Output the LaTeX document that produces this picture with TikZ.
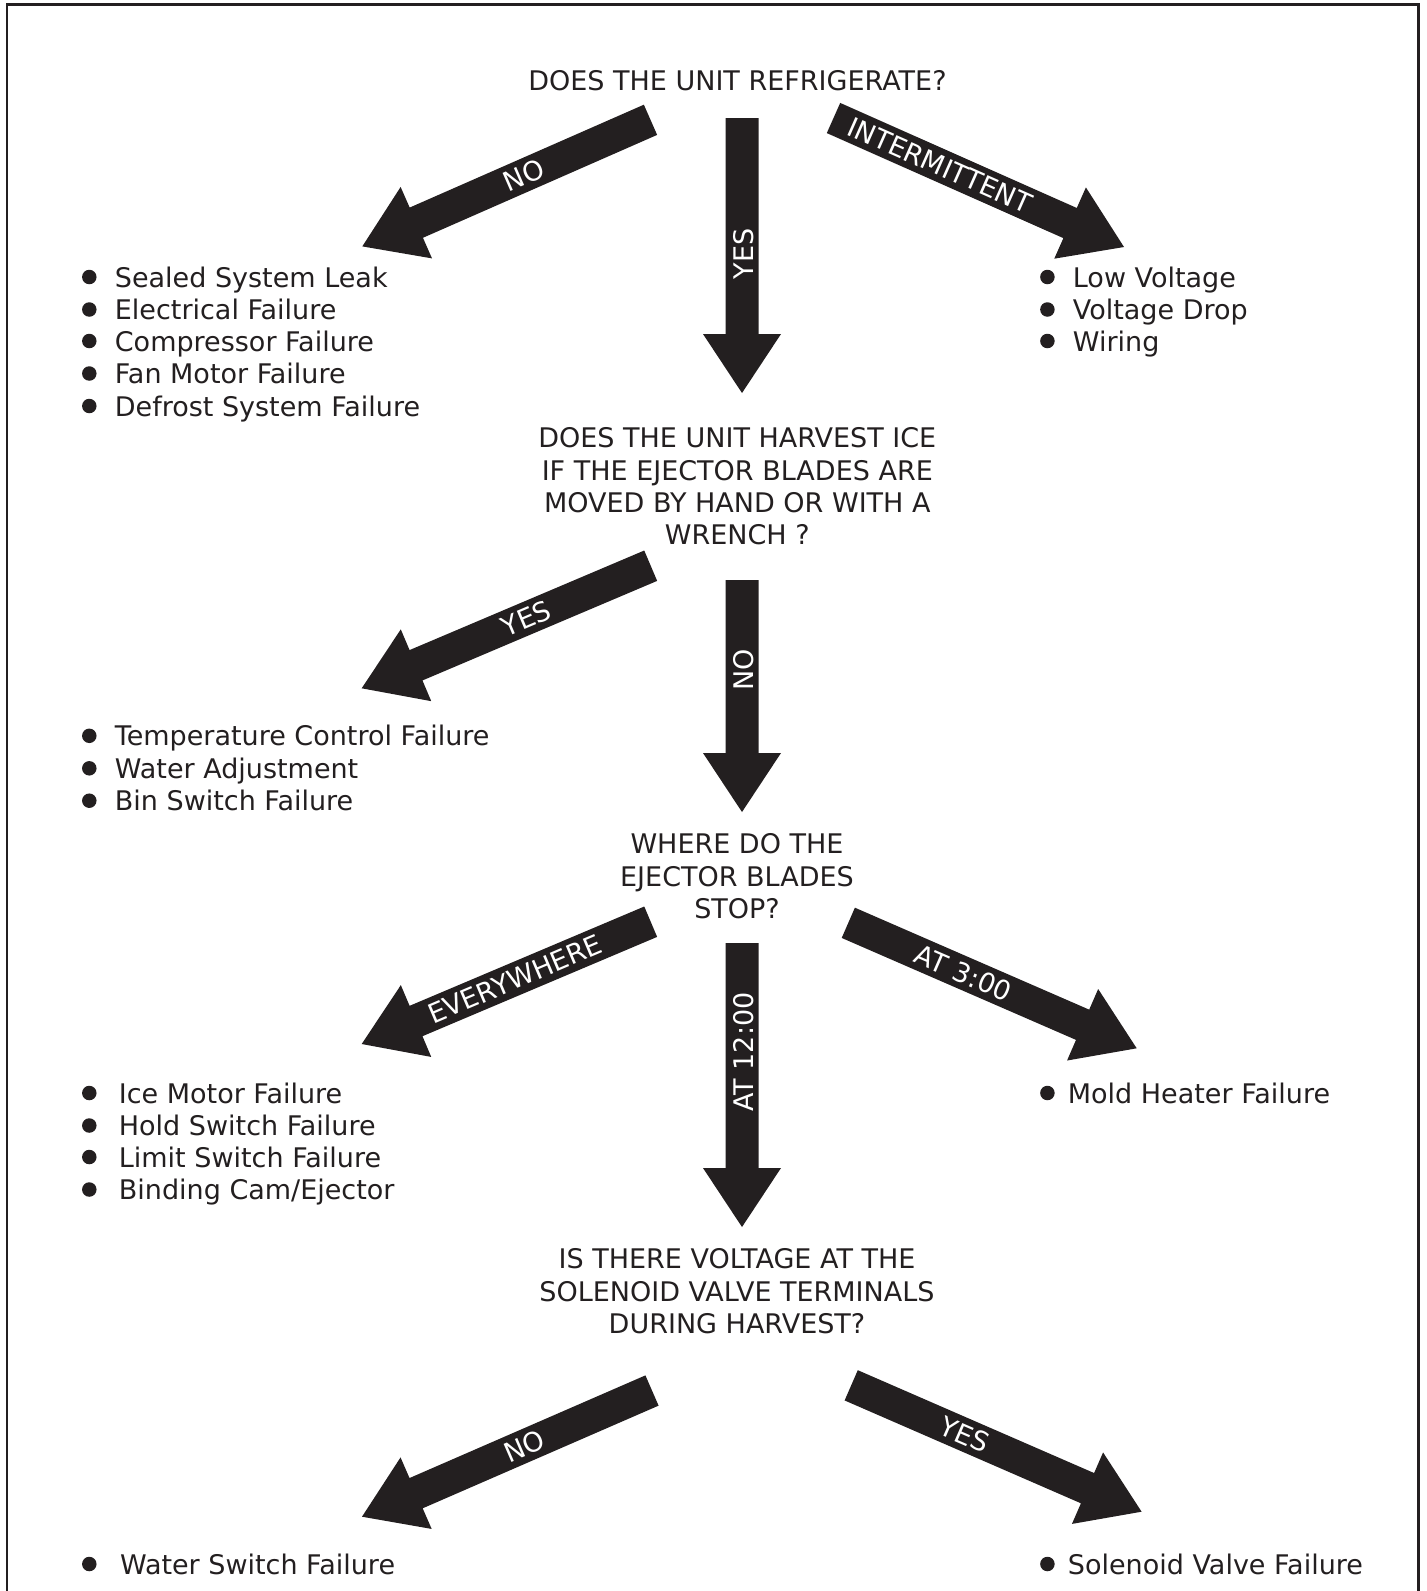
\documentclass[tikz,border=0pt]{standalone}
\usepackage{fontspec}
\setmainfont{DejaVu Sans}
\usetikzlibrary{calc}
\definecolor{ink}{RGB}{35,31,32}
\newcommand\blockarr[2]{%
  \path ($(#2)!59pt!(#1)$) coordinate (hb-#1);
  \fill[ink] ($(#1)!16.5pt!90:(#2)$) -- ($(hb-#1)!16.5pt!90:(#2)$) -- ($(hb-#1)!39pt!90:(#2)$) -- (#2) -- ($(hb-#1)!39pt!-90:(#2)$) -- ($(hb-#1)!16.5pt!-90:(#2)$) -- ($(#1)!16.5pt!-90:(#2)$) -- cycle;}
\begin{document}
\begin{tikzpicture}[x=1pt,y=-1pt,
  txt/.style={font=\fontsize{27}{32.3}\selectfont, text=ink, inner sep=0pt},
  q/.style={txt, align=center, anchor=north},
  item/.style={txt, anchor=base west},
  dot/.style={circle, fill=ink, minimum size=14.5pt, inner sep=0pt},
  lab/.style={font=\fontsize{27}{32.3}\selectfont, text=white, inner sep=0pt},
]
\useasboundingbox (0,0) rectangle (1427,1591);
\draw[ink, line width=2.4pt] (7.2,1591) -- (7.2,4.5) -- (1418.3,4.5) -- (1418.3,1591);

% questions
\node[q] (q1) at (737.4,70.5) {DOES THE UNIT REFRIGERATE?};
\node[q] (q2) at (737.3,427.5) {DOES THE UNIT HARVEST ICE\\IF THE EJECTOR BLADES ARE\\MOVED BY HAND OR WITH A\\WRENCH ?};
\node[q] (q3) at (737,833.5) {WHERE DO THE\\EJECTOR BLADES\\STOP?};
\node[q] (q4) at (737,1248.6) {IS THERE VOLTAGE AT THE\\SOLENOID VALVE TERMINALS\\DURING HARVEST?};

% arrow end points
\coordinate (a1t) at (650.5,119.8); \coordinate (a1h) at (362.3,246.4);
\coordinate (a2t) at (742,118);     \coordinate (a2h) at (742,393);
\coordinate (a3t) at (833.5,118);   \coordinate (a3h) at (1124,247);
\coordinate (b1t) at (650.7,565.7); \coordinate (b1h) at (361.7,688.3);
\coordinate (b2t) at (742,580);     \coordinate (b2h) at (742,812);
\coordinate (c1t) at (650.7,921.7); \coordinate (c1h) at (361.7,1044);
\coordinate (c2t) at (742,943);     \coordinate (c2h) at (742,1227);
\coordinate (c3t) at (848.3,922.8); \coordinate (c3h) at (1136.7,1048.3);
\coordinate (d1t) at (652,1390.5);  \coordinate (d1h) at (362,1516.7);
\coordinate (d2t) at (851.2,1385.3); \coordinate (d2h) at (1141.6,1511.7);

\blockarr{a1t}{a1h}
\blockarr{a2t}{a2h}
\blockarr{a3t}{a3h}
\blockarr{b1t}{b1h}
\blockarr{b2t}{b2h}
\blockarr{c1t}{c1h}
\blockarr{c2t}{c2h}
\blockarr{c3t}{c3h}
\blockarr{d1t}{d1h}
\blockarr{d2t}{d2h}

% arrow labels
\node[lab, rotate=23.6] (la1) at ($(a1t)!0.44!(a1h)$) {NO};
\node[lab, rotate=90] (la2) at (744,254) {YES};
\node[lab, rotate=-23.9] (la3) at ($(a3t)!0.366!(a3h)$) {INTERMITTENT};
\node[lab, rotate=23.0] (lb1) at ($(b1t)!0.43!(b1h)$) {YES};
\node[lab, rotate=90] (lb2) at (744,670) {NO};
\node[lab, rotate=23.0] (lc1) at ($(c1t)!0.47!(c1h)$) {EVERYWHERE};
\node[lab, rotate=90] (lc2) at (744,1052) {AT 12:00};
\node[lab, rotate=-23.5] (lc3) at ($(c3t)!0.40!(c3h)$) {AT 3:00};
\node[lab, rotate=23.5] (ld1) at ($(d1t)!0.44!(d1h)$) {NO};
\node[lab, rotate=-23.5] (ld2) at ($(d2t)!0.39!(d2h)$) {YES};

% list 1 left
\node[dot] (p11) at (89.3,277) {};   \node[item] (t11) at (114.7,287) {Sealed System Leak};
\node[dot] (p12) at (89.3,309.5) {}; \node[item] (t12) at (114.7,319.5) {Electrical Failure};
\node[dot] (p13) at (89.3,341) {};   \node[item] (t13) at (114.7,351) {Compressor Failure};
\node[dot] (p14) at (89.3,373.5) {}; \node[item] (t14) at (114.7,383.5) {Fan Motor Failure};
\node[dot] (p15) at (89.3,406) {};   \node[item] (t15) at (114.7,416) {Defrost System Failure};
% list 1 right
\node[dot] (r11) at (1047.4,277) {};   \node[item] (s11) at (1072.7,287) {Low Voltage};
\node[dot] (r12) at (1047.4,309.5) {}; \node[item] (s12) at (1072.7,319.5) {Voltage Drop};
\node[dot] (r13) at (1047.4,341) {};   \node[item] (s13) at (1072.7,351) {Wiring};
% list 2
\node[dot] (p21) at (89.3,735.8) {}; \node[item] (t21) at (114.7,745.8) {Temperature Control Failure};
\node[dot] (p22) at (89.3,768.3) {}; \node[item] (t22) at (114.7,778.3) {Water Adjustment};
\node[dot] (p23) at (89.3,800.7) {}; \node[item] (t23) at (114.7,810.7) {Bin Switch Failure};
% list 3 left
\node[dot] (p31) at (89.3,1093) {};   \node[item] (t31) at (118.7,1103) {Ice Motor Failure};
\node[dot] (p32) at (89.3,1125.5) {}; \node[item] (t32) at (118.7,1135.5) {Hold Switch Failure};
\node[dot] (p33) at (89.3,1157) {};   \node[item] (t33) at (118.7,1167) {Limit Switch Failure};
\node[dot] (p34) at (89.3,1189.5) {}; \node[item] (t34) at (118.7,1199.5) {Binding Cam/Ejector};
% list 3 right
\node[dot] (r31) at (1047.4,1093) {}; \node[item] (s31) at (1067.7,1103) {Mold Heater Failure};
% list 4
\node[dot] (p41) at (89.3,1564) {};   \node[item] (t41) at (119.8,1574) {Water Switch Failure};
\node[dot] (r41) at (1047.4,1564) {}; \node[item] (s41) at (1067.7,1574) {Solenoid Valve Failure};
\end{tikzpicture}
\end{document}
